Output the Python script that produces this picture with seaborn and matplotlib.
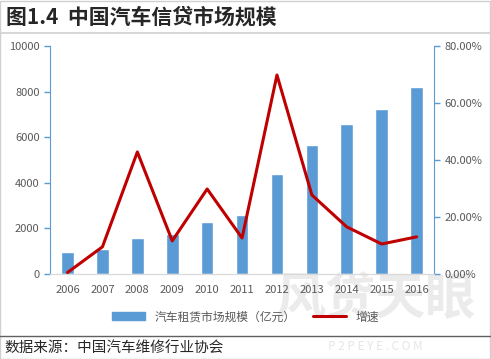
import numpy as np
import pandas as pd
import seaborn as sns
import matplotlib.pyplot as plt
from matplotlib.patches import Patch
from matplotlib.lines import Line2D

years = ['2006', '2007', '2008', '2009', '2010', '2011', '2012', '2013', '2014', '2015', '2016']
market_size = [965, 1096, 1580, 1750, 2280, 2590, 4390, 5660, 6580, 7240, 8200]
growth = [0.5, 9.5, 42.8, 11.6, 29.8, 12.6, 69.8, 27.7, 16.5, 10.5, 13.0]

sns.set_style('white')
plt.rcParams['font.family'] = ['Noto Sans CJK SC', 'DejaVu Sans']

df = pd.DataFrame({'year': years, 'size': market_size, 'growth': growth})
df['pos'] = np.arange(len(years))

blue = '#5B9BD5'
red = '#C00000'
grey = '#595959'

fig = plt.figure(figsize=(4.91, 3.59), dpi=100)
fig.patch.set_facecolor('white')

# watermark (behind everything)
fig.text(0.765, 0.165, '风贷天眼', fontsize=36, fontweight='bold', color='#EBEBEB', ha='center', va='center', zorder=-5)
fig.text(0.765, 0.035, 'P 2 P E Y E . C O M', fontsize=8.5, color='#E6E6E6', ha='center', va='center', zorder=-5)

ax = fig.add_axes([0.102, 0.237, 0.782, 0.635])
ax.patch.set_alpha(0)
sns.barplot(data=df, x='year', y='size', color=blue, width=0.36, saturation=1, ax=ax)
ax.set_ylim(0, 10000)
ax.set_yticks(range(0, 10001, 2000))
ax.set_xlim(-0.5, len(years) - 0.5)
ax.set_xlabel('')
ax.set_ylabel('')

ax2 = ax.twinx()
sns.lineplot(data=df, x='pos', y='growth', color=red, linewidth=2.2, ax=ax2)
ax2.set_ylim(0, 80)
ax2.set_yticks(range(0, 81, 20))
ax2.set_yticklabels([f'{v:.2f}%' for v in range(0, 81, 20)])
ax2.set_xlim(-0.5, len(years) - 0.5)
ax2.set_ylabel('')

for a in (ax, ax2):
    a.spines['top'].set_visible(False)
    a.spines['left'].set_color(blue)
    a.spines['right'].set_color(blue)
    a.spines['bottom'].set_color('#D9D9D9')
    a.tick_params(axis='y', colors=blue, labelcolor=grey, labelsize=8, length=4, width=1, direction='out')
ax.spines['right'].set_visible(False)
ax2.spines['left'].set_visible(False)
ax.tick_params(axis='y', left=True)
ax2.tick_params(axis='y', right=True)
ax.tick_params(axis='x', colors=grey, labelsize=8, length=0, pad=8)

handles = [Patch(color=blue, label='汽车租赁市场规模（亿元）'),
           Line2D([0], [0], color=red, lw=2.2, label='增速')]
fig.legend(handles=handles, loc='center', bbox_to_anchor=(0.5, 0.117), ncol=2,
           frameon=False, fontsize=8.5, labelcolor=grey, handlelength=2.8, columnspacing=1.5)

# title and footer
fig.text(0.012, 0.953, '图1.4  中国汽车信贷市场规模', fontsize=15, fontweight='bold', va='center', ha='left')
fig.add_artist(Line2D([0, 1], [0.908, 0.908], color='#D0D0D0', lw=1.2, transform=fig.transFigure))
fig.add_artist(Line2D([0, 1], [0.064, 0.064], color='#606060', lw=1.0, transform=fig.transFigure))
fig.text(0.008, 0.03, '数据来源：中国汽车维修行业协会', fontsize=10.5, va='center', ha='left')

fig.add_artist(plt.Rectangle((0.001, 0.001), 0.997, 0.997, fill=False, ec='#D0D0D0', lw=1, transform=fig.transFigure))

fig.savefig('out.png', dpi=100)
